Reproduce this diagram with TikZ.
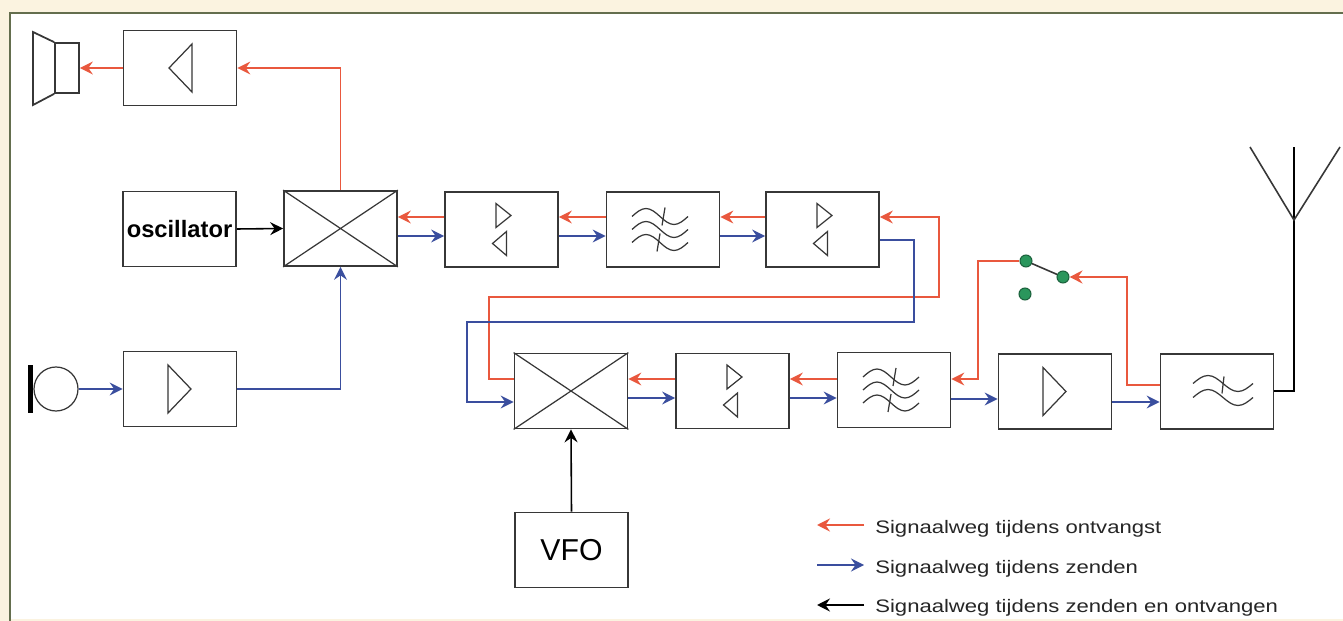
\documentclass[tikz,border=0pt]{standalone}
\usepackage{fontspec}
\setmainfont{Liberation Sans}
\newfontfamily\legendafont[FakeStretch=1.22]{Liberation Sans}
\usetikzlibrary{arrows.meta}

\definecolor{creme}{RGB}{251,243,224}
\definecolor{kader}{RGB}{100,110,78}
\definecolor{ontvang}{RGB}{233,88,62}
\definecolor{zend}{RGB}{58,78,158}
\definecolor{lijn}{RGB}{55,55,55}
\definecolor{contact}{RGB}{42,150,92}

\tikzset{
  blok/.style={draw=lijn, line width=1pt, minimum width=2.26cm, minimum height=1.5cm, inner sep=0pt},
  symbool/.style={draw=lijn, line width=0.7pt},
  pijl/.style={line width=0.9pt, -{Stealth[length=2.6mm,width=2.6mm,inset=0.9mm]}},
  rood/.style={pijl, draw=ontvang},
  blauw/.style={pijl, draw=zend},
  zwart/.style={pijl, draw=black},
  schakelpunt/.style={circle, fill=contact, draw=contact!65!black, line width=0.6pt, minimum size=0.24cm, inner sep=0pt},
  legenda/.style={font=\legendafont\fontsize{10.3}{12}\selectfont, text=black!85, inner sep=0pt, anchor=base west},
  driehoek/.pic={\draw[symbool] (-12,-24) -- (11,0) -- (-12,24) -- cycle;},
  dubbel/.pic={\draw[symbool] (-5.5,-26) -- (9.5,-14) -- (-5.5,-2) -- cycle
                               (5,2) -- (-9,14) -- (5,26) -- cycle;},
  bandfilter/.pic={
    \foreach \dy in {-13,0,13}
      \draw[symbool] (-31,\dy) sin ++(14,-8) cos ++(14,8) sin ++(14,8) cos ++(14,-8);
    \draw[symbool] (2,-22) -- (-1,-4) (-3,4) -- (-6,22);
  },
  laagfilter/.pic={
    \foreach \dy in {-8,6}
      \draw[symbool] (-24,\dy) sin ++(15,-8) cos ++(15,8) sin ++(15,8) cos ++(15,-8);
    \draw[symbool] (7,-15) -- (5,2);
  }
}

\begin{document}
\begin{tikzpicture}[x=0.02cm, y=-0.02cm]
    \useasboundingbox (0,0) rectangle (1343,621);

    % achtergrond en kader
    \fill[creme] (0,0) rectangle (1343,621);
    \fill[white] (11,14) rectangle (1343,619);
    \draw[kader, line width=1.7pt]
      (10,621) -- (10,13) -- (1343,13);

    % bovenste rij
    \node[blok] (afamp) at (180,68) {};
    \node[blok, font=\bfseries\fontsize{13.5}{16}\selectfont] (osc) at (179.5,229) {oscillator};
    \node[blok] (mix1) at (340.5,228.5) {};
    \node[blok] (ifa1) at (501.5,229.5) {};
    \node[blok] (flt1) at (663,229.5) {};
    \node[blok] (ifa2) at (822.5,229.5) {};
    \node[blok] (micamp) at (180,389) {};

    % onderste rij
    \node[blok] (mix2) at (571,391) {};
    \node[blok] (ifa3) at (732.5,391) {};
    \node[blok] (flt2) at (894,390) {};
    \node[blok] (pa) at (1055,391.5) {};
    \node[blok] (lpf) at (1217,391.5) {};
    \node[blok, font=\fontsize{17.2}{20}\selectfont] (vfo) at (571.5,550) {VFO};

    % symbolen in de blokken
    \pic[xscale=-1] at (afamp) {driehoek};
    \pic at (micamp) {driehoek};
    \pic at (pa) {driehoek};
    \pic at (ifa1) {dubbel};
    \pic at (ifa2) {dubbel};
    \pic at (ifa3) {dubbel};
    \pic at (flt1) {bandfilter};
    \pic at (flt2) {bandfilter};
    \pic at (lpf) {laagfilter};
    \foreach \m in {mix1,mix2}
      \draw[symbool] (\m.north west) -- (\m.south east) (\m.south west) -- (\m.north east);

    % luidspreker en microfoon
    \node[draw=lijn, line width=1pt, minimum width=0.48cm, minimum height=1cm, inner sep=0pt] (luidspr) at (67,68) {};
    \draw[lijn, line width=1pt]
      (luidspr.north west) -- (33,32) -- (33,105) -- (luidspr.south west);
    \node[circle, draw=lijn, line width=0.7pt, minimum size=0.88cm, inner sep=0pt] (micro) at (56,389) {};
    \fill[black] (28,365) rectangle (33,413);

    % schakelaar en antenne
    \node[schakelpunt] (s1) at (1026,261) {};
    \node[schakelpunt] (s2) at (1063,277) {};
    \node[schakelpunt] (s3) at (1025,294) {};
    \draw[lijn, line width=0.9pt] (s1) -- (s2);
    \coordinate (voet) at (1294,220);
    \draw[black, line width=0.9pt] (lpf.east |- 0,391) -| (voet) -- (1294,147);
    \draw[lijn, line width=0.9pt] (1250,147) -- (voet) -- (1340,147);

    % signaalwegen boven
    \draw[rood] (afamp.west) -- (luidspr.east);
    \draw[rood] (mix1.north) |- (afamp.east);
    \draw[zwart] (osc.east) -- (mix1.west);
    \draw[blauw] (micro.east) -- (micamp.west);
    \draw[blauw] (micamp.east) -| (mix1.south);
    \foreach \a/\b in {mix1/ifa1, ifa1/flt1, flt1/ifa2} {
      \draw[rood] (\b.west |- 0,217) -- (\a.east |- 0,217);
      \draw[blauw] (\a.east |- 0,236) -- (\b.west |- 0,236);
    }

    % verbindingen tussen de rijen
    \draw[rood] (mix2.west |- 0,379) -| (489,297) -| (939,217) -- (ifa2.east |- 0,217);
    \draw[blauw] (ifa2.east |- 0,240) -| (914,322) -| (467,402) -- (mix2.west |- 0,402);

    % signaalwegen onder
    \draw[rood] (ifa3.west |- 0,379) -- (mix2.east |- 0,379);
    \draw[rood] (flt2.west |- 0,379) -- (ifa3.east |- 0,379);
    \draw[blauw] (mix2.east |- 0,398) -- (ifa3.west |- 0,398);
    \draw[blauw] (ifa3.east |- 0,398) -- (flt2.west |- 0,398);
    \draw[blauw] (flt2.east |- 0,399) -- (pa.west |- 0,399);
    \draw[blauw] (pa.east |- 0,402) -- (lpf.west |- 0,402);
    \draw[rood] (lpf.west |- 0,385) -| (1127,277) -- (s2);
    \draw[rood] (s1.west) -| (978,379) -- (flt2.east |- 0,379);
    \draw[zwart] (vfo.north) -- (mix2.south);

    % legenda
    \node[legenda] (lg1) at (875,534) {Signaalweg tijdens ontvangst};
    \node[legenda] (lg2) at (875,574) {Signaalweg tijdens zenden};
    \node[legenda] (lg3) at (875,612) {Signaalweg tijdens zenden en ontvangen};
    \coordinate (p1a) at (864,525); \coordinate (p1b) at (817,525);
    \coordinate (p2a) at (817,565); \coordinate (p2b) at (864,565);
    \coordinate (p3a) at (864,605); \coordinate (p3b) at (817,605);
    \draw[rood] (p1a) -- (p1b);
    \draw[blauw] (p2a) -- (p2b);
    \draw[zwart] (p3a) -- (p3b);
\end{tikzpicture}
\end{document}
